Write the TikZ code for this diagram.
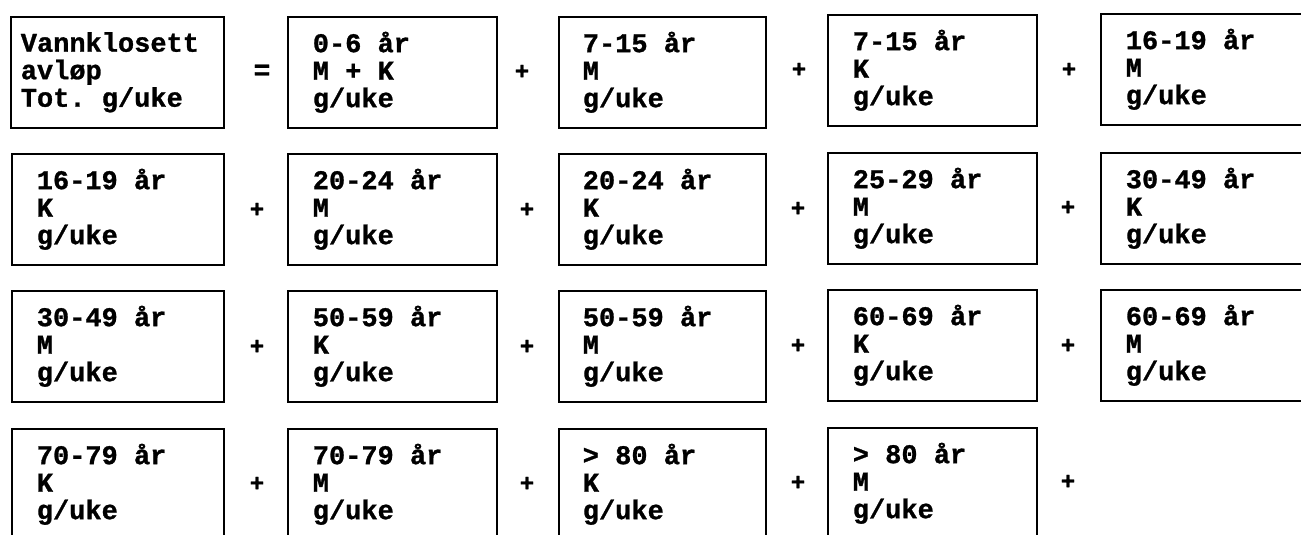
\documentclass[tikz,border=0pt]{standalone}
\usepackage{fontspec}
\setmonofont{Liberation Mono}[WordSpace={1,0,0},BoldFeatures={FakeBold=1}]
\newcommand\fixsp{\spaceskip=16.2pt\relax\xspaceskip=16.2pt\relax}
\tikzset{
  box/.style={draw=black, line width=1.6pt, anchor=north west, align=left,
    minimum height=111pt, inner ysep=0pt,
    font=\fontsize{27}{27.5}\selectfont\ttfamily\bfseries},
  opsign/.style={font=\fontsize{24}{24}\selectfont\ttfamily\bfseries, inner sep=0pt},
  eqsign/.style={font=\fontsize{28}{28}\selectfont\ttfamily\bfseries, inner sep=0pt}
}
% \bx{name}{left x}{top y}{width}{inset}{text}
\newcommand\bx[6]{%
  \pgfmathsetmacro\tw{#4-2*#5}%
  \node[box, minimum width=#4pt, inner xsep=#5pt, text width=\tw pt] (#1) at (#2,#3) {\fixsp #6};}
\begin{document}
\begin{tikzpicture}[x=1pt,y=-1pt]
\clip (0,0) rectangle (1301,535);
\fill[white] (0,0) rectangle (1301,535);
% row 1
\bx{a1}{10}{16}{213}{10}{Vannklosett\\avløp\\Tot. g/uke}
\bx{a2}{287}{16}{209}{25}{0-6 år\\M + K\\g/uke}
\bx{a3}{558}{16}{207}{24}{7-15 år\\M\\g/uke}
\bx{a4}{827}{14}{209}{25}{7-15 år\\K\\g/uke}
\bx{a5}{1100}{13}{220}{25}{16-19 år\\M\\g/uke}
\node[eqsign] (e1) at (262,72) {=};
\node[opsign] (p12) at (522,72) {+};
\node[opsign] (p13) at (799,70) {+};
\node[opsign] (p14) at (1069,70) {+};
% row 2
\bx{b1}{11}{153}{212}{25}{16-19 år\\K\\g/uke}
\bx{b2}{287}{153}{209}{25}{20-24 år\\M\\g/uke}
\bx{b3}{558}{153}{207}{24}{20-24 år\\K\\g/uke}
\bx{b4}{827}{152}{209}{25}{25-29 år\\M\\g/uke}
\bx{b5}{1100}{152}{220}{25}{30-49 år\\K\\g/uke}
\node[opsign] (p21) at (257,210) {+};
\node[opsign] (p22) at (527,210) {+};
\node[opsign] (p23) at (798,209) {+};
\node[opsign] (p24) at (1068,208) {+};
% row 3
\bx{c1}{11}{290}{212}{25}{30-49 år\\M\\g/uke}
\bx{c2}{287}{290}{209}{25}{50-59 år\\K\\g/uke}
\bx{c3}{558}{290}{207}{24}{50-59 år\\M\\g/uke}
\bx{c4}{827}{289}{209}{25}{60-69 år\\K\\g/uke}
\bx{c5}{1100}{289}{220}{25}{60-69 år\\M\\g/uke}
\node[opsign] (p31) at (257,347) {+};
\node[opsign] (p32) at (527,347) {+};
\node[opsign] (p33) at (798,346) {+};
\node[opsign] (p34) at (1068,346) {+};
% row 4
\bx{d1}{11}{428}{212}{25}{70-79 år\\K\\g/uke}
\bx{d2}{287}{428}{209}{25}{70-79 år\\M\\g/uke}
\bx{d3}{558}{428}{207}{24}{> 80 år\\K\\g/uke}
\bx{d4}{827}{427}{209}{25}{> 80 år\\M\\g/uke}
\node[opsign] (p41) at (257,484) {+};
\node[opsign] (p42) at (527,484) {+};
\node[opsign] (p43) at (798,483) {+};
\node[opsign] (p44) at (1068,482) {+};
\end{tikzpicture}
\end{document}
